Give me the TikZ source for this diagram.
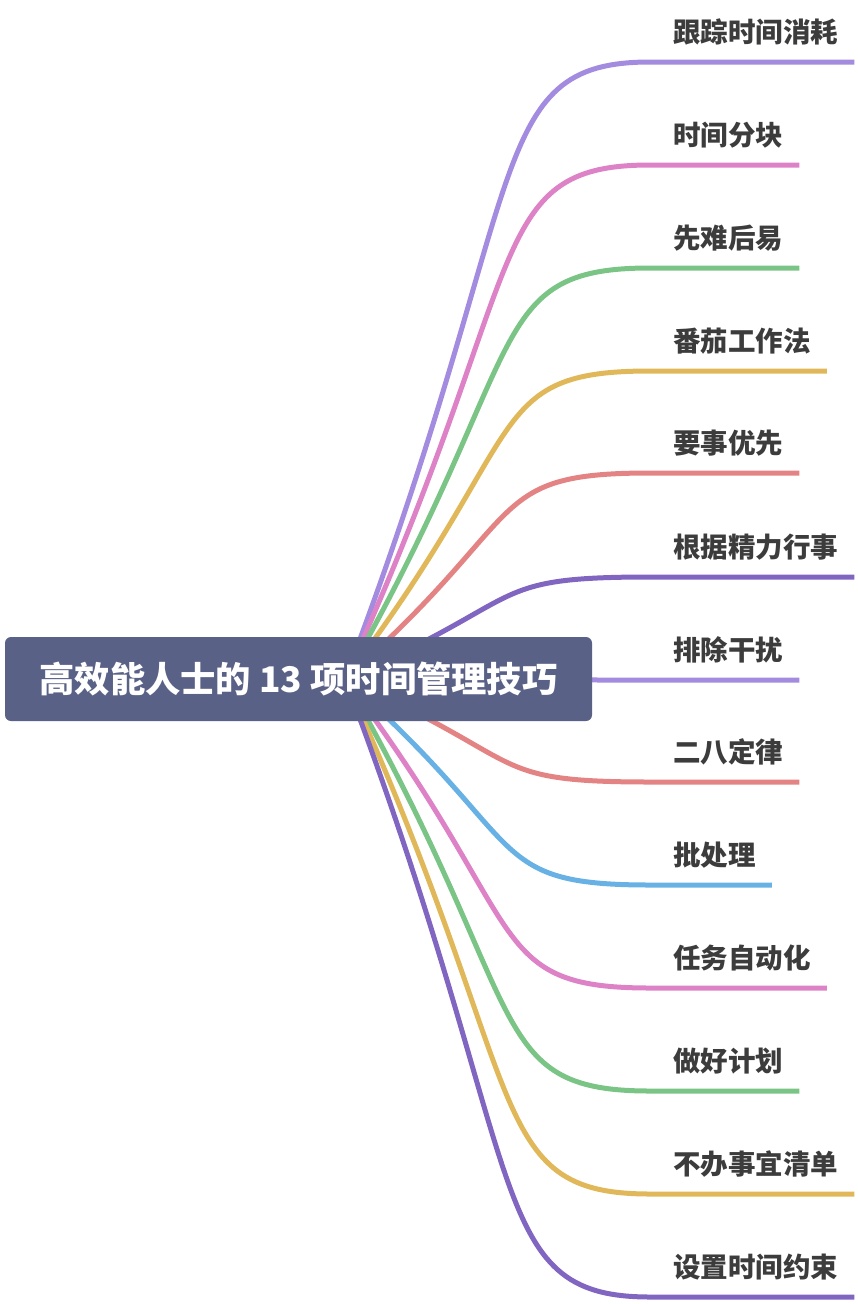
\documentclass[tikz,border=0pt]{standalone}
\usepackage{fontspec}
\newfontfamily\cjk{Noto Sans CJK SC}
\usetikzlibrary{calc}

\definecolor{lav}{HTML}{A38BE0}
\definecolor{rose}{HTML}{DD82C6}
\definecolor{leaf}{HTML}{7AC485}
\definecolor{sand}{HTML}{E0B85A}
\definecolor{coral}{HTML}{E48383}
\definecolor{grape}{HTML}{8066C0}
\definecolor{sky}{HTML}{68B1E4}
\definecolor{slate}{HTML}{5A6186}
\definecolor{ink}{HTML}{3C3C3C}

\tikzset{
  twig/.style={line width=5pt, to path={.. controls ($(\tikztostart)!0.8!(\tikztostart |- \tikztotarget)+(187.6,0)$) and ($(\tikztotarget)+(-167.75,0)$) .. (\tikztotarget) \tikztonodes}},
  topic/.style={anchor=base west, inner xsep=0pt, inner ysep=0pt, text=ink, font=\cjk\bfseries\fontsize{27.5}{30}\selectfont},
  hubbox/.style={fill=slate, rounded corners=6pt, minimum width=587pt, minimum height=84pt, inner sep=0pt, text=white, font=\cjk\bfseries\fontsize{35.3}{40}\selectfont}
}

\begin{document}
\begin{tikzpicture}[x=1pt, y=-1pt]
  \useasboundingbox (0,0) rectangle (858,1304);

  \coordinate (hub) at (345,679);
  \coordinate (e1) at (650,62);
  \coordinate (e2) at (650,165);
  \coordinate (e3) at (650,268);
  \coordinate (e4) at (650,371);
  \coordinate (e5) at (650,473);
  \coordinate (e6) at (650,577);
  \coordinate (e7) at (650,680);
  \coordinate (e8) at (650,782);
  \coordinate (e9) at (650,885);
  \coordinate (e10) at (650,988);
  \coordinate (e11) at (650,1091);
  \coordinate (e12) at (650,1194);
  \coordinate (e13) at (650,1297);

  \node[topic] (b1) at ($(e1)+(23,-20)$) {跟踪时间消耗};
  \node[topic] (b2) at ($(e2)+(23,-20)$) {时间分块};
  \node[topic] (b3) at ($(e3)+(23,-20)$) {先难后易};
  \node[topic] (b4) at ($(e4)+(23,-20)$) {番茄工作法};
  \node[topic] (b5) at ($(e5)+(23,-20)$) {要事优先};
  \node[topic] (b6) at ($(e6)+(23,-20)$) {根据精力行事};
  \node[topic] (b7) at ($(e7)+(23,-20)$) {排除干扰};
  \node[topic] (b8) at ($(e8)+(23,-20)$) {二八定律};
  \node[topic] (b9) at ($(e9)+(23,-20)$) {批处理};
  \node[topic] (b10) at ($(e10)+(23,-20)$) {任务自动化};
  \node[topic] (b11) at ($(e11)+(23,-20)$) {做好计划};
  \node[topic] (b12) at ($(e12)+(23,-20)$) {不办事宜清单};
  \node[topic] (b13) at ($(e13)+(23,-20)$) {设置时间约束};

  \draw[twig, lav] (hub) to (e1) -- ($(e1 -| b1.east)+(16,0)$);
  \draw[twig, rose] (hub) to (e2) -- ($(e2 -| b2.east)+(16,0)$);
  \draw[twig, leaf] (hub) to (e3) -- ($(e3 -| b3.east)+(16,0)$);
  \draw[twig, sand] (hub) to (e4) -- ($(e4 -| b4.east)+(16,0)$);
  \draw[twig, coral] (hub) to (e5) -- ($(e5 -| b5.east)+(16,0)$);
  \draw[twig, grape] (hub) to (e6) -- ($(e6 -| b6.east)+(16,0)$);
  \draw[twig, lav] (hub) to (e7) -- ($(e7 -| b7.east)+(16,0)$);
  \draw[twig, coral] (hub) to (e8) -- ($(e8 -| b8.east)+(16,0)$);
  \draw[twig, sky] (hub) to (e9) -- ($(e9 -| b9.east)+(16,0)$);
  \draw[twig, rose] (hub) to (e10) -- ($(e10 -| b10.east)+(16,0)$);
  \draw[twig, leaf] (hub) to (e11) -- ($(e11 -| b11.east)+(16,0)$);
  \draw[twig, sand] (hub) to (e12) -- ($(e12 -| b12.east)+(16,0)$);
  \draw[twig, grape] (hub) to (e13) -- ($(e13 -| b13.east)+(16,0)$);

  \node[hubbox] (root) at (298.5,679) {高效能人士的 13 项时间管理技巧};
\end{tikzpicture}
\end{document}
